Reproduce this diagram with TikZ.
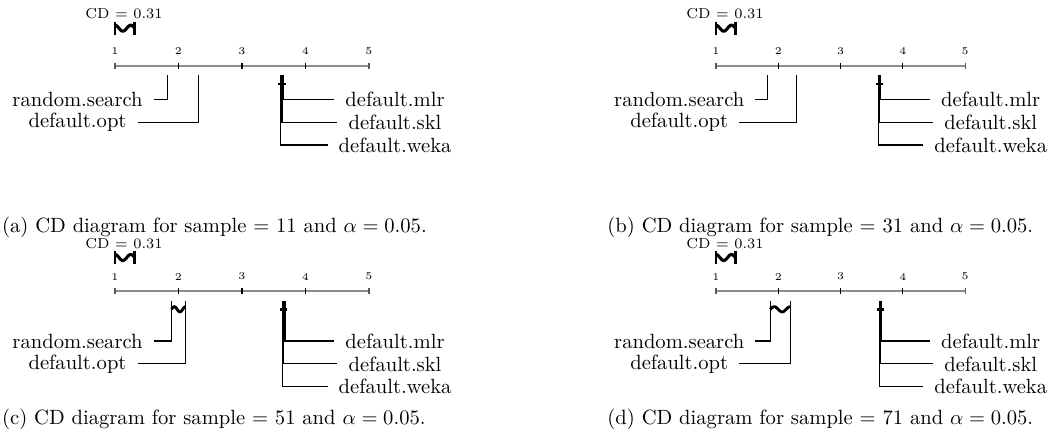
\documentclass[tikz,border=0pt]{standalone}
\usetikzlibrary{calc}
\tikzset{
 axisline/.style={draw=black!45, line width=1.1pt},
 axtick/.style={draw=black, line width=0.5pt},
 endtick/.style={draw=black!65, line width=0.5pt},
 ticklab/.style={font=\tiny, inner sep=0pt},
 cdtext/.style={font=\scriptsize, inner sep=0pt},
 cdbar/.style={draw=black, line width=1.5pt},
 cdtk/.style={draw=black, line width=1.4pt},
 cliq/.style={draw=black, line width=1.4pt},
 mline/.style={draw=black, line width=0.5pt},
 lab/.style={font=\normalsize, inner xsep=5.2pt, inner ysep=0pt},
 capt/.style={font=\normalsize, inner sep=0pt, anchor=base west},
}
% #1 prefix, #2 ox, #3 oy, #4 unit, #5 rs, #6 opt, #7 clique, #8 first row, #9 left wave
% \cdtop: offset of the CD text above the axis, \cdbary: offset of the CD bar
\newcommand{\cdpanel}[9]{%
\begin{scope}[shift={(#2,#3)}]
\pgfmathsetmacro{\U}{#4}
\pgfmathsetmacro{\xrs}{(#5-1)*\U}
\pgfmathsetmacro{\xopt}{(#6-1)*\U}
\pgfmathsetmacro{\xskl}{(#7-1)*\U}
\pgfmathsetmacro{\xmlr}{\xskl+1.1}
\pgfmathsetmacro{\xweka}{\xskl-1.1}
\pgfmathsetmacro{\xcd}{0.31*\U}
\pgfmathsetmacro{\xL}{-0.59*\U}
\pgfmathsetmacro{\xR}{4.41*\U}
\pgfmathsetmacro{\rA}{#8}
\pgfmathsetmacro{\rB}{#8+22.9}
\pgfmathsetmacro{\rC}{#8+45.7}
\pgfmathsetmacro{\bT}{\cdbary-6.5}
\pgfmathsetmacro{\bB}{\cdbary+6.5}
% CD bar
\node[cdtext] (#1cd) at (9,\cdtop) {CD $=$ 0.31};
\draw[cdtk] (0,\bT) -- (0,\bB);
\draw[cdtk] (\xcd,\bT) -- (\xcd,\bB);
\draw[cdbar] plot[domain=0:1, samples=30, smooth] ({\x*\xcd},{\cdbary-3*sin(450*\x+90)});
% axis
\draw[axisline] (0,0) -- ({4*\U},0);
\foreach \i/\lab in {0/1,1/2,2/3,3/4,4/5}{
  \node[ticklab] (#1t\lab) at ({\i*\U},-14.4) {\lab};
}
\foreach \i in {1,2,3}{ \draw[axtick] ({\i*\U},-3) -- ({\i*\U},3.3); }
\draw[endtick] (0,-3) -- (0,3.3);
\draw[endtick] ({4*\U},-3) -- ({4*\U},3.3);
% method tops
\coordinate (#1rs) at (\xrs,9.5);
\coordinate (#1opt) at (\xopt,9.5);
\coordinate (#1mlr) at (\xmlr,9.5);
\coordinate (#1skl) at (\xskl,9.5);
\coordinate (#1weka) at (\xweka,9.5);
% labels
\node[lab] (#1rsl) at (\xL,\rA) {random.search};
\node[lab] (#1optl) at (\xL,\rB) {default.opt};
\node[lab] (#1mlrl) at (\xR,\rA) {default.mlr};
\node[lab] (#1skll) at (\xR,\rB) {default.skl};
\node[lab] (#1wekal) at (\xR,\rC) {default.weka};
% connectors
\draw[mline] (#1rs) |- (#1rsl.east);
\draw[mline] (#1opt) |- (#1optl.east);
\draw[mline] (#1mlr) |- (#1mlrl.west);
\draw[mline] (#1skl) |- (#1skll.west);
\draw[mline] (#1weka) |- (#1wekal.west);
% cliques
\draw[cliq, line cap=rect] ({\xweka-1},18.3) -- ({\xmlr+1},18.3);
\ifnum#9=1
\draw[cliq] plot[domain=0:1, samples=30, smooth] ({\xrs+\x*(\xopt-\xrs)},{18.3-2.6*sin(450*\x)});
\fi
\end{scope}}
\begin{document}
\begin{tikzpicture}[x=0.4854pt, y={(0pt,-0.4854pt)}]
\useasboundingbox (0,0) rectangle (1062,435);
\def\cdtop{-52.4}\def\cdbary{-37.5}
\cdpanel{a}{115}{65.7}{63.5}{1.83}{2.31}{3.63}{33.6}{0}
\cdpanel{b}{716}{65.7}{62.3}{1.83}{2.29}{3.63}{33.6}{0}
\def\cdtop{-47}\def\cdbary{-33.5}
\cdpanel{c}{115}{291}{63.5}{1.89}{2.11}{3.66}{50}{1}
\cdpanel{d}{716}{291}{62.3}{1.87}{2.19}{3.645}{50}{1}
\node[capt] (capa) at (1.7,232.2) {(a) CD diagram for sample $=$ 11 and $\alpha = 0.05$.};
\node[capt] (capb) at (607,232.2) {(b) CD diagram for sample $=$ 31 and $\alpha = 0.05$.};
\node[capt] (capc) at (1.7,424.9) {(c) CD diagram for sample $=$ 51 and $\alpha = 0.05$.};
\node[capt] (capd) at (607,424.9) {(d) CD diagram for sample $=$ 71 and $\alpha = 0.05$.};
\end{tikzpicture}
\end{document}
